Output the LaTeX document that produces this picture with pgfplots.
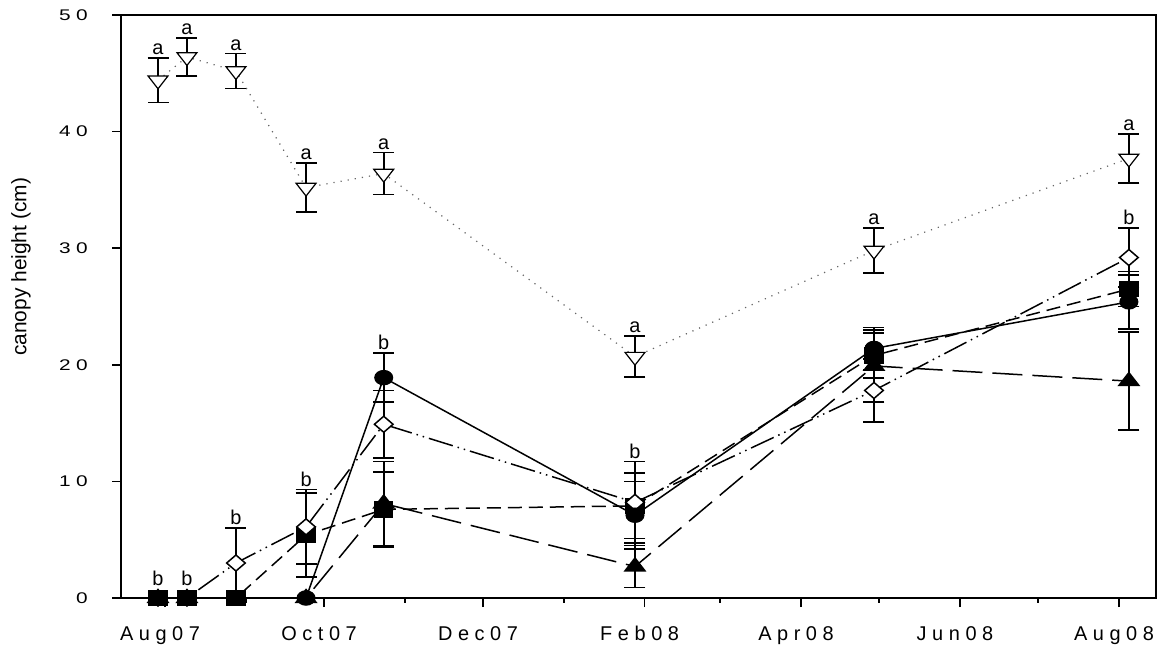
\documentclass[border=0pt]{standalone}
\usepackage{pgfplots}
\pgfplotsset{compat=1.18}
\usepackage{pgfplotstable}
\usepackage{fontspec}
\setmainfont{Liberation Sans}
\newfontfamily\xtf[LetterSpace=28]{Liberation Sans}
\newfontfamily\ytf[FakeStretch=1.35,LetterSpace=35]{Liberation Sans}

% x = days since 1 Aug 2007
\pgfplotstableread{
x y e
-2.7 0 0
8.4 0 0
54.1 0 0
83.9 18.9 2.1
180.3 7.1 2.9
272.0 21.4 1.8
369.8 25.4 2.3
}\tcirc
\pgfplotstableread{
x y e
-2.7 0 0
8.4 0 0
27.2 0 0
54.1 5.4 3.6
83.9 7.6 3.2
180.3 7.9 2.8
272.0 20.8 1.9
369.8 26.5 1.5
}\tsq
\pgfplotstableread{
x y e
-2.7 0 0
8.4 0 0
54.1 0 0
83.9 8.1 3.6
180.3 2.7 1.8
272.0 19.9 3.1
369.8 18.6 4.2
}\ttri
\pgfplotstableread{
x y e
-2.7 0 0
8.4 0 0
27.2 3.0 3.0
54.1 6.1 3.2
83.9 14.9 2.9
180.3 8.2 3.5
272.0 17.8 2.7
369.8 29.2 2.5
}\tdia
\pgfplotstableread{
x y e
-2.7 44.4 1.9
8.4 46.4 1.6
27.2 45.2 1.5
54.1 35.2 2.1
83.9 36.4 1.8
180.3 20.7 1.75
272.0 29.8 1.9
369.8 37.7 2.1
}\tinv

\begin{document}
\begin{tikzpicture}
\begin{axis}[
  scale only axis,
  width=1035bp, height=583bp,
  xmin=-16.9, xmax=380.2,
  ymin=0, ymax=50,
  axis line style={line width=1.6bp},
  tick pos=left,
  tick align=outside,
  major tick length=9bp,
  minor tick length=4.5bp,
  every tick/.style={black, line width=1.6bp},
  xtick={0,61,122,184,244,305,366},
  xticklabels={Aug07,Oct07,Dec07,Feb08,Apr08,Jun08,Aug08},
  minor xtick={31,92,153,213,274,335},
  ytick={0,10,20,30,40,50},
  yticklabels={0,10,20,30,40,50},
  minor ytick={},
  /pgf/number format/assume math mode=true,
  xticklabel style={font=\xtf\fontsize{20}{23}\selectfont, inner sep=0pt, anchor=north, yshift=-19bp, xshift=-5bp},
  yticklabel style={font=\ytf\fontsize{15.5}{17}\selectfont, inner sep=0pt, anchor=east, xshift=-24bp},
  ylabel={canopy height (cm)},
  ylabel style={font=\fontsize{21}{24}\selectfont, at={(axis description cs:-0.0966,0.568)}, anchor=center},
  clip=false,
  error bars/y dir=both,
  error bars/y explicit,
  error bars/error bar style={line width=1.8bp, solid, black},
  error bars/error mark options={line width=1.8bp, mark size=10.5bp, rotate=90, solid, black},
]
\coordinate (bl) at (rel axis cs:0,0);
\coordinate (tr) at (rel axis cs:1,1);

% squares, short dash
\addplot[black, line width=1.5bp, dash pattern=on 14bp off 7bp,
  mark=square*, mark size=7.5bp, mark options={solid, xscale=1.2, fill=black}]
  table[x=x, y=y, y error=e] {\tsq};
% triangles up, long dash
\addplot[black, line width=1.5bp, dash pattern=on 30bp off 10bp,
  mark=triangle*, mark size=8.5bp, mark options={solid, xscale=1.35, fill=black}]
  table[x=x, y=y, y error=e] {\ttri};
% diamonds, dash-dot-dot
\addplot[black, line width=1.5bp, dash pattern=on 25bp off 5bp on 1.5bp off 5bp on 1.5bp off 5bp,
  mark=diamond*, mark size=8bp, mark options={solid, xscale=1.55, fill=white, draw=black}]
  table[x=x, y=y, y error=e] {\tdia};
% circles, solid
\addplot[black, line width=1.5bp, solid,
  mark=*, mark size=7bp, mark options={solid, xscale=1.25, fill=black}]
  table[x=x, y=y, y error=e] {\tcirc};
% inverted triangles, dotted
\addplot[black!60, line width=1.2bp, dash pattern=on 1.2bp off 6bp,
  mark=triangle*, mark size=8.5bp, mark options={solid, rotate=180, xscale=1.35, fill=white, draw=black}]
  table[x=x, y=y, y error=e] {\tinv};

\tikzset{lab/.style={font=\fontsize{20}{23}\selectfont, anchor=south, inner sep=0pt, yshift=3bp}}
\node[lab] at (axis cs:-2.7,46.3) {a};
\node[lab] at (axis cs:8.4,48.0) {a};
\node[lab] at (axis cs:27.2,46.7) {a};
\node[lab] at (axis cs:54.1,37.3) {a};
\node[lab] at (axis cs:83.9,38.2) {a};
\node[lab] at (axis cs:180.3,22.45) {a};
\node[lab] at (axis cs:272.0,31.7) {a};
\node[lab] at (axis cs:369.8,39.8) {a};
\node[lab] at (axis cs:-2.7,0.8) {b};
\node[lab] at (axis cs:8.4,0.8) {b};
\node[lab] at (axis cs:27.2,6.0) {b};
\node[lab] at (axis cs:54.1,9.3) {b};
\node[lab] at (axis cs:83.9,21.0) {b};
\node[lab] at (axis cs:180.3,11.7) {b};
\node[lab] at (axis cs:369.8,31.7) {b};
\end{axis}
\path ([xshift=-121bp,yshift=-50bp]bl) rectangle ([xshift=1bp,yshift=15bp]tr);
\end{tikzpicture}
\end{document}
